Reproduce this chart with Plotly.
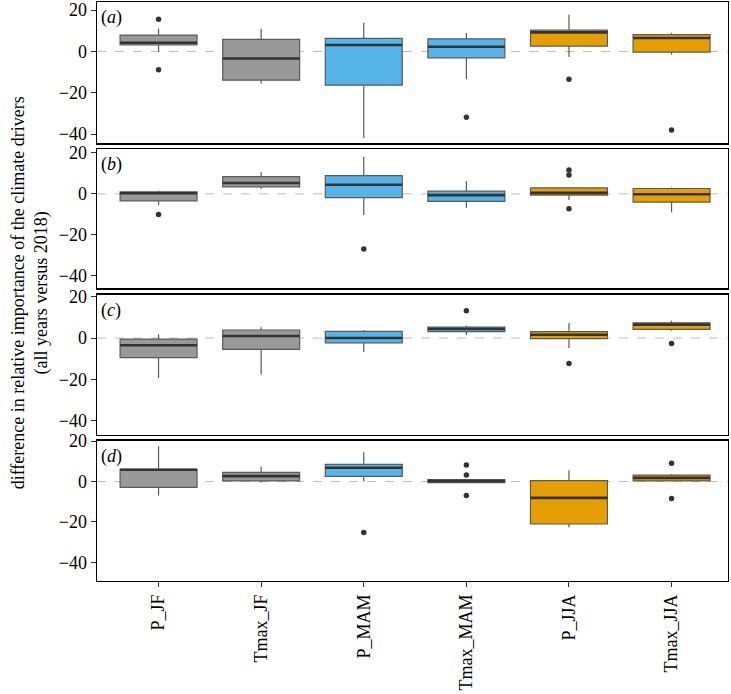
import plotly.graph_objects as go

categories = ["P_JF", "Tmax_JF", "P_MAM", "Tmax_MAM", "P_JJA", "Tmax_JJA"]
colors = ["#999999", "#999999", "#56B4E9", "#56B4E9", "#E69F00", "#E69F00"]
panels = ["a", "b", "c", "d"]

# per panel: lists over categories
q1 = {
    "a": [3.1, -13.9, -16.3, -3.1, 2.6, -0.3],
    "b": [-3.4, 3.4, -1.8, -3.7, -0.6, -4.0],
    "c": [-9.5, -5.5, -2.3, 3.1, -0.3, 4.2],
    "d": [-2.9, 0.3, 2.6, -0.5, -21.0, 0.3],
}
median = {
    "a": [4.2, -3.4, 3.1, 2.3, 9.2, 6.5],
    "b": [0.3, 5.3, 4.4, -0.6, 0.5, -0.2],
    "c": [-3.5, 1.0, 0.0, 4.4, 1.6, 6.5],
    "d": [5.8, 2.7, 6.8, 0.3, -8.1, 1.8],
}
q3 = {
    "a": [7.9, 5.8, 6.3, 6.1, 10.3, 8.1],
    "b": [1.0, 8.4, 8.9, 1.3, 2.9, 2.6],
    "c": [-0.5, 3.9, 3.2, 5.3, 3.1, 7.4],
    "d": [6.0, 4.5, 8.5, 1.0, 0.5, 3.2],
}
lower = {
    "a": [0.0, -15.5, -41.9, -13.4, -2.7, -1.6],
    "b": [-5.5, 2.4, -10.3, -6.8, -3.0, -9.0],
    "c": [-19.4, -17.7, -6.8, 1.5, -4.8, 3.5],
    "d": [-6.9, -0.5, 0.0, -0.5, -22.6, 0.0],
}
upper = {
    "a": [11.0, 11.0, 13.9, 8.9, 17.7, 9.0],
    "b": [1.5, 10.6, 18.0, 6.3, 2.9, 3.1],
    "c": [1.8, 5.2, 3.9, 6.0, 7.3, 8.4],
    "d": [17.5, 7.3, 14.5, 1.0, 5.6, 3.7],
}
# outliers: (category index, value)
outliers = {
    "a": [(0, 15.6), (0, -8.9), (3, -31.8), (4, -13.4), (5, -38.0)],
    "b": [(0, -10.0), (2, -26.9), (4, 11.6), (4, 9.2), (4, -7.3)],
    "c": [(3, 13.2), (4, -12.3), (5, -2.6)],
    "d": [(2, -25.2), (3, 8.2), (3, 3.2), (3, -6.9), (5, 9.0), (5, -8.4)],
}
y_ranges = {"a": [-44.4, 23.9], "b": [-46.0, 21.7], "c": [-46.8, 21.1], "d": [-49.2, 20.2]}
y_domains = {"a": [0.756, 1.0], "b": [0.5055, 0.7456], "c": [0.2527, 0.4948], "d": [0.0, 0.2423]}
y_ticks = [20, 0, -20, -40]

FONT = "Liberation Serif, Times New Roman, serif"
BW = 0.75

fig = go.Figure()
for p_i, p in enumerate(panels):
    ax = "" if p_i == 0 else str(p_i + 1)
    xref, yref = "x" + ax, "y" + ax
    for i, cat in enumerate(categories):
        fig.add_trace(go.Box(
            x=[i], q1=[q1[p][i]], median=[median[p][i]], q3=[q3[p][i]],
            lowerfence=[lower[p][i]], upperfence=[upper[p][i]],
            width=BW, whiskerwidth=0, fillcolor=colors[i],
            line=dict(color="#5a5a5a", width=1.2),
            xaxis=xref, yaxis=yref, showlegend=False, hoverinfo="skip",
        ))
        fig.add_trace(go.Scatter(
            x=[i - BW / 2, i + BW / 2], y=[median[p][i], median[p][i]],
            mode="lines", line=dict(color="#333333", width=2.6),
            xaxis=xref, yaxis=yref, showlegend=False, hoverinfo="skip",
        ))
    fig.add_trace(go.Scatter(
        x=[o[0] for o in outliers[p]], y=[o[1] for o in outliers[p]],
        mode="markers", marker=dict(color="#333333", size=5.5),
        xaxis=xref, yaxis=yref, showlegend=False, hoverinfo="skip",
    ))
    # dashed zero line
    fig.add_shape(type="line", xref=xref + " domain", yref=yref, x0=0, x1=1, y0=0, y1=0,
                  line=dict(color="#bdbdbd", width=1, dash="dash"), layer="below")
    fig.add_annotation(text="(<i>%s</i>)" % p, xref=xref + " domain", yref=yref + " domain",
                       x=0, y=1, xanchor="left", yanchor="top", xshift=2, yshift=-3,
                       showarrow=False, font=dict(family=FONT, size=18, color="black"))
    last = p_i == len(panels) - 1
    fig.update_layout(**{
        "xaxis" + ax: dict(
            domain=[0, 1], anchor=yref, range=[-0.6, 5.55], automargin=False,
            tickmode="array", tickvals=list(range(len(categories))), ticktext=categories,
            showticklabels=last, ticks="outside" if last else "", ticklen=5, tickwidth=1,
            tickcolor="#333333", tickangle=-90,
            showline=True, mirror=True, linecolor="black", linewidth=1.4,
            showgrid=False, zeroline=False,
            tickfont=dict(family=FONT, size=18, color="black"),
        ),
        "yaxis" + ax: dict(
            domain=y_domains[p], anchor=xref, range=y_ranges[p], automargin=False,
            tickmode="array", tickvals=y_ticks,
            ticks="outside", ticklen=5, tickwidth=1, tickcolor="#333333",
            showline=True, mirror=True, linecolor="black", linewidth=1.4,
            showgrid=False, zeroline=False,
            tickfont=dict(family=FONT, size=18, color="black"),
        ),
    })

fig.add_annotation(text="difference in relative importance of the climate drivers<br>(all years versus 2018)",
                   xref="paper", yref="paper", x=-0.106, y=0.497, xanchor="center", yanchor="middle",
                   textangle=-90, showarrow=False,
                   font=dict(family=FONT, size=18, color="black"))

fig.update_layout(
    template="none",
    width=731, height=694,
    margin=dict(l=97, r=3, t=2, b=113, autoexpand=False),
    paper_bgcolor="white", plot_bgcolor="white",
    boxmode="overlay",
    hovermode=False,
)

fig.write_html("out.html", config={"displayModeBar": False, "staticPlot": True},
               post_script="document.body.style.margin='0px';")
